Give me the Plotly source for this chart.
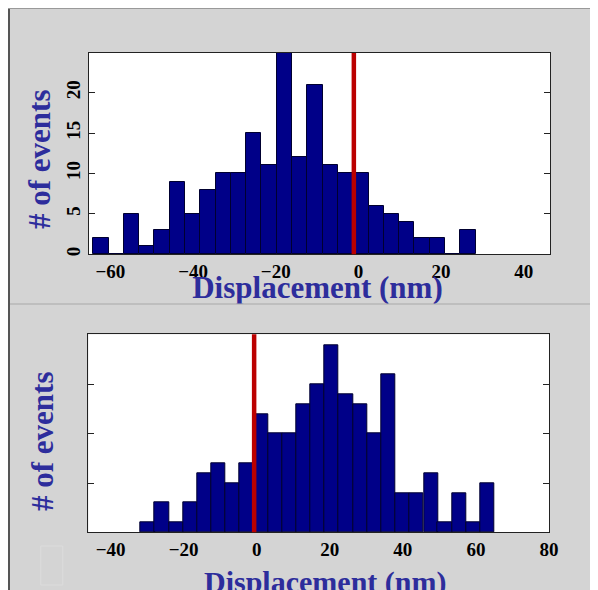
import plotly.graph_objects as go

# ---------------- data ----------------
top_centers = [-62.3, -58.6, -54.9, -51.2, -47.5, -43.8, -40.1, -36.4, -32.7, -29.0,
               -25.3, -21.6, -17.9, -14.2, -10.5, -6.8, -3.1, 0.6, 4.3, 8.0,
               11.7, 15.4, 19.1, 22.8, 26.5]
top_counts = [2, 0, 5, 1, 3, 9, 5, 8, 10, 10, 15, 11, 25, 12, 21, 11, 10, 10, 6, 5,
              4, 2, 2, 0, 3]
top_marker = -1.1

bottom_centers = [-29.8, -26.0, -22.1, -18.2, -14.3, -10.5, -6.6, -2.7, 1.2, 5.0,
                  8.9, 12.8, 16.7, 20.5, 24.4, 28.3, 32.2, 36.0, 39.9, 43.8,
                  47.7, 51.5, 55.4, 59.3, 63.2]
bottom_counts = [1, 3, 1, 3, 6, 7, 5, 7, 12, 10, 10, 13, 15, 19, 14, 13, 10, 16, 4, 4,
                 6, 1, 4, 1, 5]
bottom_marker = -0.7

top_xticks = [-60, -40, -20, 0, 20, 40]
top_yticks = [0, 5, 10, 15, 20]
top_minor_marks = [-46.6, -28.2, -9.3, 9.1, 27.4]
bottom_xticks = [-40, -20, 0, 20, 40, 60, 80]
bottom_yticks = [5, 10, 15]
bottom_minor_marks = [-28.1, -10.1, 8.0, 25.8, 43.7, 61.7]

xlabel = "Displacement (nm)"
ylabel = "# of events"

# ---------------- style ----------------
OFF = 8            # page body margin
W, H = 590, 582    # figure size (page 598x590 minus body margin)
BG = "#d4d4d4"
BAR = "#000088"
BAR_EDGE = "#000030"
RED = "#bb0000"
TITLE_C = "#2d2d9c"
SERIF = "Liberation Serif"
AX = "#222222"


def fx(p):
    return (p - OFF) / W


def fy(p):
    return 1 - (p - OFF) / H


tickfont = dict(family=SERIF, size=19, color="black", weight="bold")

fig = go.Figure()
fig.add_trace(go.Bar(x=top_centers, y=top_counts, width=3.7, xaxis="x", yaxis="y",
                     marker=dict(color=BAR, line=dict(color=BAR_EDGE, width=1)),
                     showlegend=False))
fig.add_trace(go.Bar(x=bottom_centers, y=bottom_counts, width=3.875, xaxis="x3", yaxis="y3",
                     marker=dict(color=BAR, line=dict(color=BAR_EDGE, width=1)),
                     showlegend=False))
# top x title, clipped by the lower panel like in the original
fig.add_trace(go.Scatter(x=[317.5], y=[290.5], mode="text", text=[xlabel],
                         textposition="middle center", cliponaxis=True,
                         textfont=dict(family=SERIF, size=31, color=TITLE_C, weight="bold"),
                         xaxis="x4", yaxis="y4", showlegend=False, hoverinfo="skip"))

common_x = dict(showgrid=False, zeroline=False, showline=True, linecolor=AX, linewidth=1,
                mirror=True, ticks="", tickfont=tickfont, automargin=False)
common_y = dict(showgrid=False, zeroline=False, showline=True, linecolor=AX, linewidth=1,
                mirror="ticks", ticks="inside", ticklen=6, tickcolor=AX, automargin=False)
minor_x = dict(showgrid=False, zeroline=False, showline=False, ticks="inside", ticklen=5,
               tickcolor=AX, showticklabels=False, side="top", automargin=False)

fig.update_layout(
    width=W, height=H, autosize=False,
    margin=dict(l=0, r=0, t=0, b=0, autoexpand=False),
    paper_bgcolor=BG, plot_bgcolor="rgba(0,0,0,0)",
    bargap=0,
    xaxis=dict(domain=[fx(89), fx(550)], range=[-65.17, 46.35], anchor="y",
               tickvals=top_xticks, **common_x),
    xaxis2=dict(overlaying="x", anchor="y", range=[-65.17, 46.35],
                tickvals=top_minor_marks, **minor_x),
    yaxis=dict(domain=[fy(254.3), fy(53)], range=[0, 24.9], anchor="x",
               tickvals=top_yticks, tickangle=-90, tickfont=tickfont, **common_y),
    xaxis3=dict(domain=[fx(88.3), fx(549.3)], range=[-46.1, 80.1], anchor="y3",
                tickvals=bottom_xticks, **common_x),
    xaxis5=dict(overlaying="x3", anchor="y3", range=[-46.1, 80.1],
                tickvals=bottom_minor_marks, **minor_x),
    yaxis3=dict(domain=[fy(532.3), fy(334.3)], range=[0, 20.1], anchor="x3",
                tickvals=bottom_yticks, showticklabels=False, **common_y),
    xaxis4=dict(domain=[0, 1], range=[OFF, OFF + W], anchor="y4", visible=False,
                fixedrange=True, automargin=False),
    yaxis4=dict(domain=[fy(303.5), fy(256)], range=[303.5, 256], anchor="x4",
                visible=False, fixedrange=True, automargin=False),
)

shapes = [
    # white plotting areas
    dict(type="rect", xref="x domain", yref="y domain", x0=0, x1=1, y0=0, y1=1,
         fillcolor="white", line=dict(width=0), layer="below"),
    dict(type="rect", xref="x3 domain", yref="y3 domain", x0=0, x1=1, y0=0, y1=1,
         fillcolor="white", line=dict(width=0), layer="below"),
    # borders
    dict(type="line", xref="paper", yref="paper", x0=fx(9), x1=fx(9), y0=0, y1=1,
         line=dict(color="#555555", width=2), layer="below"),
    dict(type="line", xref="paper", yref="paper", x0=0, x1=1, y0=fy(8.5), y1=fy(8.5),
         line=dict(color="#999999", width=1), layer="below"),
    dict(type="line", xref="paper", yref="paper", x0=fx(10), x1=1, y0=fy(304), y1=fy(304),
         line=dict(color="#a8a8a8", width=1), layer="below"),
    # faint ghost rectangle bottom-left
    dict(type="rect", xref="paper", yref="paper", x0=fx(40.7), x1=fx(62.7), y0=fy(585),
         y1=fy(546), line=dict(color="#dcdcdc", width=1), layer="below"),
    # red markers
    dict(type="line", xref="x", yref="y domain", x0=top_marker, x1=top_marker, y0=0, y1=1,
         line=dict(color=RED, width=4.5)),
    dict(type="line", xref="x3", yref="y3 domain", x0=bottom_marker, x1=bottom_marker,
         y0=0, y1=1, line=dict(color=RED, width=4.5)),
]
fig.update_layout(shapes=shapes)

title_font = dict(family=SERIF, size=31, color=TITLE_C, weight="bold")
fig.add_annotation(text=ylabel, xref="paper", yref="paper", x=fx(40), y=fy(160),
                   textangle=-90, showarrow=False, font=title_font,
                   xanchor="center", yanchor="middle")
fig.add_annotation(text=ylabel, xref="paper", yref="paper", x=fx(42), y=fy(442),
                   textangle=-90, showarrow=False, font=title_font,
                   xanchor="center", yanchor="middle")
fig.add_annotation(text=xlabel, xref="paper", yref="paper", x=fx(325), y=fy(582),
                   showarrow=False, font=dict(family=SERIF, size=30, color=TITLE_C, weight="bold"),
                   xanchor="center", yanchor="middle")

fig.write_html("out.html")
